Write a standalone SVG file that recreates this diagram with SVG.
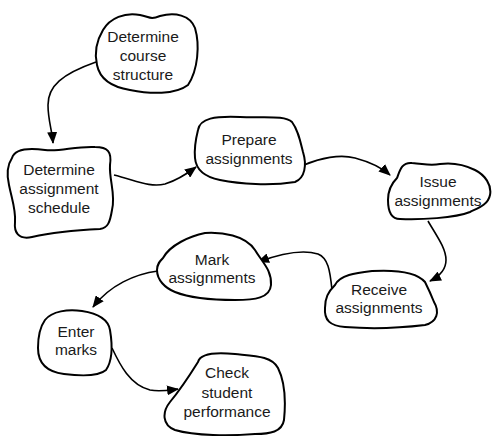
<svg xmlns="http://www.w3.org/2000/svg" width="492" height="436" viewBox="0 0 492 436">
<style>
.blob{fill:#fff;stroke:#000;stroke-width:2;stroke-linejoin:round}
.lbl{font-family:"Liberation Sans",Arial,sans-serif;font-size:15.5px;fill:#1a1a1a;text-anchor:middle}
.con{fill:none;stroke:#000;stroke-width:1.6;marker-end:url(#arr)}
</style>
<defs>
<marker id="arr" markerUnits="userSpaceOnUse" markerWidth="12" markerHeight="10" viewBox="0 0 12 10" refX="11" refY="5" orient="auto">
<path d="M0,0 L12,5 L0,10 Z" fill="#000"/>
</marker>
</defs>
<rect width="492" height="436" fill="#fff"/>
<g id="connectors">
<path class="con" d="M96,62 C62,74 48,86 48,105 C48,120 52,130 53,143"/>
<path class="con" d="M114,175 C135,180 150,188 165,184 C178,180 188,173 196,167"/>
<path class="con" d="M304,165 C320,158 340,154 355,158 C370,162 382,168 390,175"/>
<path class="con" d="M428,221 C436,235 446,248 446,260 C446,270 440,276 430,281"/>
<path class="con" d="M332,290 C330,270 328,258 318,254 C305,250 285,252 258,262"/>
<path class="con" d="M158,271 C135,274 110,285 93,307"/>
<path class="con" d="M112,348 C120,365 130,385 150,390 C160,392 170,390 178,389"/>
</g>
<g id="n1">
<path class="blob" d="M103,30 C110,18 125,12 140,15 C150,17 150,20 160,16 C175,12 190,15 195,28 C200,45 198,70 188,85 C175,95 150,94 130,90 C112,87 100,80 97,65 C94,52 97,40 103,30 Z"/>
<text class="lbl" x="143" y="42">Determine</text>
<text class="lbl" x="143" y="61">course</text>
<text class="lbl" x="143" y="80">structure</text>
</g>
<g id="n2">
<path class="blob" d="M12,158 C15,148 30,148 45,150 C60,152 75,146 95,147 C108,147 112,152 110,165 C109,180 116,195 112,210 C110,222 108,228 100,229 C80,230 50,233 32,237 C18,240 14,232 15,222 C16,210 12,200 9,185 C6,172 8,164 12,158 Z"/>
<text class="lbl" x="59" y="175">Determine</text>
<text class="lbl" x="59" y="194">assignment</text>
<text class="lbl" x="59" y="213">schedule</text>
</g>
<g id="n3">
<path class="blob" d="M198,130 C200,118 215,116 240,117 C265,118 285,115 292,122 C298,130 300,140 303,152 C307,165 305,178 295,182 C270,186 240,184 220,180 C205,177 196,170 195,158 C194,148 196,138 198,130 Z"/>
<text class="lbl" x="249" y="145">Prepare</text>
<text class="lbl" x="249" y="164">assignments</text>
</g>
<g id="n4">
<path class="blob" d="M397,178 C400,170 402,162 412,163 C425,164 430,166 440,164 C455,162 465,165 475,170 C485,175 492,185 490,195 C488,205 478,208 470,212 C455,218 420,220 400,219 C390,219 388,210 388,200 C388,190 392,183 397,178 Z"/>
<text class="lbl" x="438" y="187">Issue</text>
<text class="lbl" x="438" y="206">assignments</text>
</g>
<g id="n5">
<path class="blob" d="M335,285 C340,275 355,273 372,271 C390,270 415,270 425,282 C430,292 432,297 434,302 C440,312 437,322 425,325 C400,328 370,329 345,327 C330,326 324,320 325,308 C325,298 328,292 335,285 Z"/>
<text class="lbl" x="379" y="295">Receive</text>
<text class="lbl" x="379" y="313">assignments</text>
</g>
<g id="n6">
<path class="blob" d="M163,258 C170,245 190,236 205,233 C222,232 245,235 255,250 C262,262 272,270 271,285 C270,298 255,300 235,300 C210,300 190,298 175,292 C165,288 157,280 157,270 C157,264 160,261 163,258 Z"/>
<text class="lbl" x="212" y="265">Mark</text>
<text class="lbl" x="212" y="283">assignments</text>
</g>
<g id="n7">
<path class="blob" d="M45,320 C52,311 68,309 82,311 C95,313 108,318 110,330 C112,342 113,360 106,370 C98,377 80,376 64,374 C48,372 38,364 38,348 C38,336 40,327 45,320 Z"/>
<text class="lbl" x="76" y="337">Enter</text>
<text class="lbl" x="76" y="355">marks</text>
</g>
<g id="n8">
<path class="blob" d="M198,362 C200,354 215,352 235,354 C255,356 272,356 278,368 C284,380 286,400 284,420 C282,432 270,434 255,434 C230,436 195,436 175,430 C162,425 162,412 170,402 C180,390 188,378 198,362 Z"/>
<text class="lbl" x="227" y="378">Check</text>
<text class="lbl" x="227" y="398">student</text>
<text class="lbl" x="227" y="417">performance</text>
</g>
</svg>
